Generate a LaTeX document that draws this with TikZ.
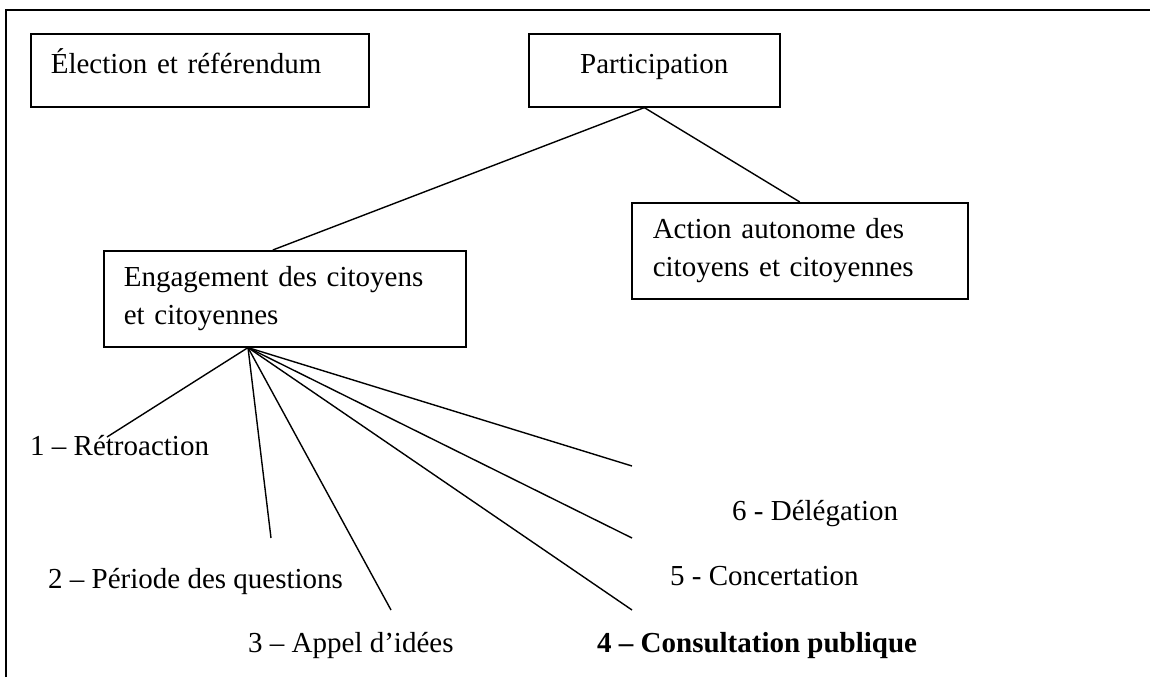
\documentclass[tikz,border=0pt]{standalone}
\usepackage{fontspec}
\setmainfont{Liberation Serif}
\usepackage{tikz}
\usetikzlibrary{calc}
\tikzset{
  boite/.style={rectangle, draw, line width=1.6pt, align=left,
    inner xsep=20pt, inner ysep=0pt, anchor=north west},
  boite1/.style={boite, minimum height=73pt, text height=27pt, text depth=20pt},
  boite2/.style={boite, minimum height=96pt},
  trait/.style={line width=1.4pt},
  etiq/.style={anchor=base west, inner sep=0pt},
}

\begin{document}
\begin{tikzpicture}[x=1pt, y=-1pt, font=\fontsize{29}{38}\selectfont]
  \useasboundingbox (0,0) rectangle (1150,677);
  \draw[trait] (6,677) -- (6,10) -- (1150,10);
  \node[boite1, text width=298pt] (elect) at (30,33) {Élection et référendum};
  \node[boite1, text width=211pt, align=center] (part) at (528,33) {Participation};
  \node[boite2, text width=294pt, inner xsep=21pt] (action) at (631,202) {Action autonome des\\citoyens et citoyennes};
  \node[boite2, text width=322pt] (engage) at (103,250) {Engagement des citoyens\\et citoyennes};
  \draw[trait] ([xshift=-10pt]part.south) -- ([xshift=-12pt]engage.north);
  \draw[trait] ([xshift=-10pt]part.south) -- (action.north);
  % les six niveaux
  \coordinate (pivot) at ($(engage.south west)+(145,0)$);
  \coordinate (f1) at (107,437);
  \coordinate (f2) at (271,538);
  \coordinate (f3) at (391,610);
  \coordinate (f4) at (632,610);
  \coordinate (f5) at (632,538);
  \coordinate (f6) at (632,466);
  \foreach \i in {1,...,6}
    \draw[trait] (pivot) -- (f\i);
  \node[etiq] (niv1) at (30,455) {1 – Rétroaction};
  \node[etiq] (niv2) at (48,588) {2 – Période des questions};
  \node[etiq] (niv3) at (248,652) {3 – Appel d’idées};
  \node[etiq] (niv4) at (597,652) {\bfseries 4 – Consultation publique};
  \node[etiq] (niv5) at (670,585) {5 - Concertation};
  \node[etiq] (niv6) at (732,520) {6 - Délégation};
\end{tikzpicture}
\end{document}
